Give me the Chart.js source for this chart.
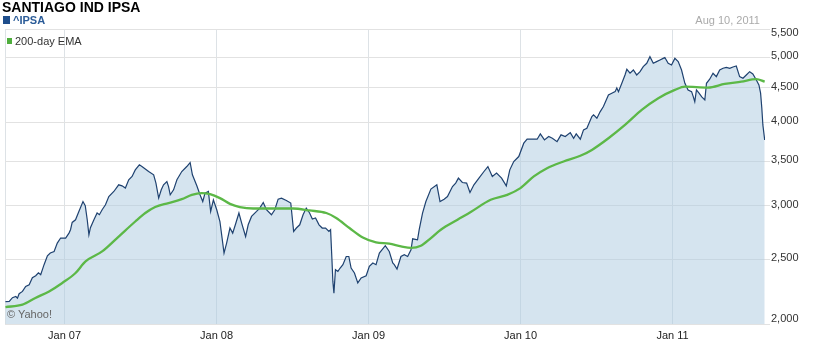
<!DOCTYPE html>
<html><head><meta charset="utf-8">
<script src="https://cdn.jsdelivr.net/npm/chart.js@4/dist/chart.umd.min.js"></script>
<style>
html,body{margin:0;padding:0;background:#fff;}
#wrap{position:relative;width:820px;height:350px;font-family:"Liberation Sans",Arial,sans-serif;overflow:hidden;}
#c{position:absolute;left:0;top:0;}
.t{position:absolute;white-space:nowrap;line-height:1;}
.sq{position:absolute;}
</style></head><body>
<div id="wrap">
<canvas id="c" width="820" height="350"></canvas>
<div class="t" style="left:2px;top:0px;font-weight:bold;font-size:14px;color:#000">SANTIAGO IND IPSA</div>
<div class="sq" style="left:3px;top:16px;width:7px;height:8px;background:#1f4e8c"></div>
<div class="t" style="left:13px;top:15px;font-weight:bold;font-size:11px;color:#2b5c98">^IPSA</div>
<div class="t" style="right:60px;top:15px;font-size:11px;color:#aaaaaa">Aug 10, 2011</div>
<div class="sq" style="left:7px;top:38px;width:5px;height:6px;background:#4fae3c"></div>
<div class="t" style="left:15px;top:36px;font-size:11px;color:#333">200-day EMA</div>
<div class="t" style="left:7px;top:309px;font-size:11px;color:#666">© Yahoo!</div>
</div>
<script>
// Dates as decimal years
const priceDates = [
2006.611,2006.636,2006.657,2006.679,2006.690,2006.701,2006.723,2006.744,2006.767,2006.788,
2006.810,2006.828,2006.843,2006.865,2006.887,2006.906,2006.931,2006.952,2006.974,2007.007,
2007.029,2007.039,2007.050,2007.072,2007.094,2007.121,2007.136,2007.149,2007.160,2007.170,
2007.193,2007.214,2007.229,2007.247,2007.269,2007.291,2007.324,2007.356,2007.378,2007.400,
2007.422,2007.444,2007.465,2007.492,2007.509,2007.553,2007.586,2007.601,2007.619,2007.636,
2007.651,2007.673,2007.684,2007.695,2007.717,2007.739,2007.771,2007.804,2007.826,2007.841,
2007.870,2007.891,2007.909,2007.924,2007.946,2007.961,2007.979,2008.001,2008.022,2008.049,
2008.066,2008.088,2008.106,2008.127,2008.147,2008.165,2008.191,2008.208,2008.230,2008.263,
2008.284,2008.307,2008.328,2008.361,2008.383,2008.405,2008.427,2008.459,2008.488,2008.507,
2008.525,2008.547,2008.569,2008.590,2008.612,2008.630,2008.651,2008.674,2008.695,2008.717,
2008.739,2008.750,2008.759,2008.765,2008.772,2008.782,2008.798,2008.813,2008.831,2008.853,
2008.870,2008.885,2008.907,2008.929,2008.951,2008.984,2009.005,2009.028,2009.049,2009.071,
2009.110,2009.136,2009.159,2009.169,2009.187,2009.213,2009.235,2009.257,2009.279,2009.290,
2009.322,2009.333,2009.355,2009.377,2009.410,2009.449,2009.470,2009.497,2009.519,2009.552,
2009.573,2009.591,2009.617,2009.645,2009.667,2009.693,2009.726,2009.759,2009.785,2009.814,
2009.842,2009.875,2009.906,2009.929,2009.955,2009.988,2010.021,2010.043,2010.109,2010.130,
2010.157,2010.185,2010.209,2010.240,2010.266,2010.294,2010.327,2010.349,2010.366,2010.393,
2010.414,2010.436,2010.469,2010.480,2010.502,2010.524,2010.545,2010.578,2010.600,2010.622,
2010.633,2010.644,2010.666,2010.687,2010.699,2010.720,2010.742,2010.764,2010.786,2010.807,
2010.830,2010.851,2010.873,2010.895,2010.917,2010.938,2010.949,2010.971,2010.993,2011.015,
2011.037,2011.059,2011.081,2011.102,2011.125,2011.136,2011.146,2011.157,2011.174,2011.192,
2011.212,2011.223,2011.244,2011.266,2011.288,2011.310,2011.332,2011.354,2011.376,2011.397,
2011.419,2011.441,2011.463,2011.485,2011.507,2011.528,2011.551,2011.568,2011.579,2011.587,
2011.594,2011.606];
const priceValues = [
2160,2162,2189,2198,2185,2219,2237,2276,2289,2345,
2361,2385,2369,2452,2528,2552,2566,2641,2687,2687,
2733,2765,2835,2861,2944,3046,3002,2861,2717,2784,
2861,2928,2911,2961,3012,3099,3153,3226,3215,3190,
3282,3320,3396,3455,3435,3377,3339,3245,3082,3171,
3226,3263,3207,3117,3171,3282,3377,3435,3483,3339,
3215,3117,3046,3135,3153,2944,3064,2961,2844,2552,
2641,2781,2733,2829,2928,2829,2701,2812,2894,2944,
2978,3036,2961,2911,2961,3071,3082,3057,3030,2749,
2781,2812,2911,2978,2928,2868,2878,2812,2781,2781,
2749,2765,2494,2315,2224,2410,2396,2424,2452,2522,
2522,2424,2383,2303,2343,2361,2438,2466,2452,2552,
2617,2566,2466,2452,2416,2522,2537,2522,2581,2680,
2671,2765,2928,3046,3179,3226,3046,3071,3099,3207,
3245,3301,3252,3245,3142,3226,3301,3377,3435,3320,
3358,3301,3215,3396,3495,3555,3722,3773,3773,3843,
3764,3808,3786,3742,3830,3808,3860,3786,3843,3773,
3896,3918,4078,4102,4056,4149,4221,4393,4419,4443,
4500,4443,4572,4705,4798,4733,4786,4705,4758,4841,
4897,5010,4897,4925,4953,4981,4995,4897,4869,4981,
4925,4786,4572,4469,4443,4367,4293,4469,4419,4363,
4318,4572,4637,4733,4678,4786,4814,4830,4814,4836,
4852,4678,4652,4705,4758,4721,4625,4546,4419,4199,
3963,3764];
const emaDates = [2006.611,2006.723,2006.808,2006.898,2006.985,2007.072,2007.138,2007.247,2007.356,2007.465,
2007.531,2007.596,2007.684,2007.771,2007.837,2007.902,2007.957,2008.022,2008.088,2008.153,
2008.241,2008.372,2008.503,2008.612,2008.722,2008.787,2008.874,2008.962,2009.049,2009.136,
2009.213,2009.279,2009.344,2009.410,2009.475,2009.585,2009.672,2009.803,2009.912,2009.999,
2010.087,2010.174,2010.283,2010.393,2010.469,2010.578,2010.687,2010.797,2010.906,2011.015,
2011.081,2011.233,2011.343,2011.452,2011.551,2011.606];
const emaValues = [2120,2137,2187,2237,2303,2383,2480,2566,2701,2844,
2928,2989,3030,3071,3117,3135,3124,3082,3022,2989,
2974,2974,2974,2954,2928,2878,2781,2692,2647,2635,
2611,2597,2617,2687,2765,2861,2938,3064,3117,3190,
3320,3416,3495,3564,3637,3786,3963,4173,4344,4469,
4520,4505,4562,4598,4637,4598];
const yTicks = [2000,2500,3000,3500,4000,4500,5000,5500];
const xTickYears = [2007,2008,2009,2010,2011];
const xTickLabels = ['Jan 07','Jan 08','Jan 09','Jan 10','Jan 11'];
const rangeStart = 2006.608, rangeEnd = 2011.608;

Chart.defaults.font.family = '"Liberation Sans", Arial, sans-serif';
const pricePts = priceDates.map((t,i)=>({x:t,y:priceValues[i]}));
const emaPts = emaDates.map((t,i)=>({x:t,y:emaValues[i]}));

// keep the end labels of the right axis inside the plot band, as in the original
const labelNudge = {
  id:'labelNudge',
  beforeDraw(chart){
    const s = chart.scales.y;
    const items = s.getLabelItems();
    items.forEach((it,i)=>{
      if (it._nudged) return;
      let dy = -1;
      if (i === 0) dy = -5;
      if (i === items.length-1) dy = 3;
      it.options.translation = [it.options.translation[0], it.options.translation[1]+dy];
      it._nudged = true;
    });
  }
};

new Chart(document.getElementById('c'), {
  type: 'line',
  data: { datasets: [
    { label:'200-day EMA', data: emaPts, borderColor:'#5cb847', borderWidth:2.3, pointRadius:0, fill:false, cubicInterpolationMode:'monotone' },
    { label:'^IPSA', data: pricePts, borderColor:'#1f4270', borderWidth:1.2, pointRadius:0, tension:0, fill:'start', backgroundColor:'rgba(172,201,224,0.5)' }
  ]},
  plugins:[labelNudge],
  options: {
    responsive:false, animation:false, events:[],
    layout:{ padding:{ left:3, top:29.5, right:0, bottom:0 } },
    plugins:{ legend:{display:false}, tooltip:{enabled:false} },
    scales:{
      x:{ type:'linear', min:rangeStart, max:rangeEnd,
        afterBuildTicks:(s)=>{ s.ticks=[{value:rangeStart}].concat(xTickYears.map(v=>({value:v}))); },
        afterFit:(s)=>{ s.height=26; },
        border:{display:false},
        grid:{ color:'#dde2e6', drawTicks:false },
        ticks:{ autoSkip:false, maxRotation:0, padding:5, color:'#222', font:{size:11},
          callback:(v)=>{ const i=xTickYears.indexOf(v); return i<0?'':xTickLabels[i]; } }
      },
      y:{ type:'logarithmic', position:'right', min:2000, max:5500,
        afterBuildTicks:(s)=>{ s.ticks=yTicks.map(v=>({value:v})); },
        afterFit:(s)=>{ s.width=55; },
        border:{display:false},
        grid:{ color:'#e2e2e2', drawTicks:true, tickLength:5 },
        ticks:{ padding:1, color:'#333', font:{size:11},
          callback:(v)=>v.toLocaleString('en-US') }
      }
    }
  }
});
</script>
</body></html>
